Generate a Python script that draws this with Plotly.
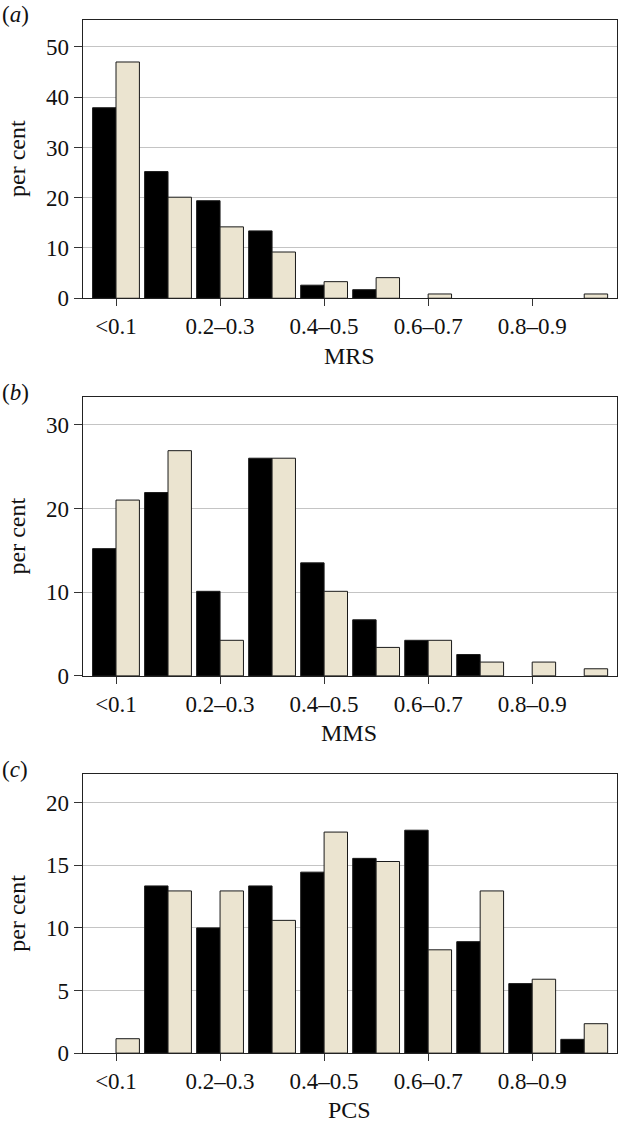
import plotly.graph_objects as go

categories = ["<0.1", "0.1–0.2", "0.2–0.3", "0.3–0.4", "0.4–0.5",
              "0.5–0.6", "0.6–0.7", "0.7–0.8", "0.8–0.9", "0.9–1.0"]
tick_positions = [0, 2, 4, 6, 8]
tick_labels = ["<0.1", "0.2–0.3", "0.4–0.5", "0.6–0.7", "0.8–0.9"]

mrs_black = [37.9, 25.2, 19.4, 13.4, 2.6, 1.7, 0, 0, 0, 0]
mrs_beige = [47.0, 20.1, 14.2, 9.2, 3.3, 4.1, 0.85, 0, 0, 0.85]

mms_black = [15.2, 21.9, 10.1, 26.0, 13.5, 6.7, 4.25, 2.55, 0, 0]
mms_beige = [21.0, 26.9, 4.25, 26.0, 10.1, 3.4, 4.25, 1.65, 1.65, 0.85]

pcs_black = [0, 13.35, 10.0, 13.35, 14.45, 15.55, 17.8, 8.9, 5.55, 1.1]
pcs_beige = [1.15, 12.95, 12.95, 10.6, 17.65, 15.3, 8.25, 12.95, 5.9, 2.35]

panels = [
    ("a", "MRS", mrs_black, mrs_beige, [0, 10, 20, 30, 40, 50], 55.4),
    ("b", "MMS", mms_black, mms_beige, [0, 10, 20, 30], 33.3),
    ("c", "PCS", pcs_black, pcs_beige, [0, 5, 10, 15, 20], 22.26),
]

W, H = 618, 1137
x_left, x_right = 82.7, 617.0
tops = [20.0, 401.7, 783.3]
bottoms = [301.7, 683.7, 1065.3]

FONT = "Liberation Serif"
BEIGE = "#ebe4d0"
BLACK = "#000000"


def nz(vals):
    # zero-height bins are drawn as empty (no outline sliver)
    return [v if v else None for v in vals]


fig = go.Figure()
annotations = []
layout_axes = {}
x_pos = list(range(len(categories)))

for i, (letter, xtitle, blk, bge, yticks, ymax) in enumerate(panels):
    n = "" if i == 0 else str(i + 1)
    xa, ya = "x" + n, "y" + n
    fig.add_trace(go.Bar(x=x_pos, y=nz(blk), xaxis=xa, yaxis=ya, name="black",
                         marker=dict(color=BLACK, line=dict(color="#1a1a1a", width=1)),
                         showlegend=False, hovertext=categories))
    fig.add_trace(go.Bar(x=x_pos, y=nz(bge), xaxis=xa, yaxis=ya, name="beige",
                         marker=dict(color=BEIGE, line=dict(color="#1a1a1a", width=1)),
                         showlegend=False, hovertext=categories))
    ydom = [1 - bottoms[i] / H, 1 - tops[i] / H]
    layout_axes["xaxis" + n] = dict(
        domain=[x_left / W, x_right / W], range=[-0.64, 9.63],
        tickmode="array", tickvals=tick_positions, ticktext=tick_labels,
        ticks="outside", ticklen=7, tickcolor="#333", tickwidth=1,
        showline=True, linecolor="#222", linewidth=1.3, mirror=True,
        showgrid=False, zeroline=False, anchor=ya,
        tickfont=dict(family=FONT, size=23, color="#111"),
    )
    layout_axes["yaxis" + n] = dict(
        domain=ydom, range=[0, ymax], tickvals=yticks,
        ticks="outside", ticklen=8, tickcolor="#333", tickwidth=1,
        showline=True, linecolor="#222", linewidth=1.3, mirror=True,
        showgrid=True, gridcolor="#c4c4c4", gridwidth=1,
        zeroline=False, anchor=xa,
        tickfont=dict(family=FONT, size=23, color="#111"),
    )
    cy = (tops[i] + bottoms[i]) / 2
    annotations.append(dict(text="per cent", x=17 / W, y=1 - cy / H, xref="paper", yref="paper",
                            textangle=-90, showarrow=False, xanchor="center", yanchor="middle",
                            font=dict(family=FONT, size=24, color="#111")))
    annotations.append(dict(text=xtitle, x=349 / W, y=1 - (bottoms[i] + 58) / H, xref="paper", yref="paper",
                            showarrow=False, xanchor="center", yanchor="middle",
                            font=dict(family=FONT, size=24, color="#111")))
    annotations.append(dict(text="(<i>%s</i>)" % letter, x=0, y=1 - (tops[i] - 5) / H, xref="paper", yref="paper",
                            showarrow=False, xanchor="left", yanchor="middle",
                            font=dict(family=FONT, size=23, color="#111")))

fig.update_layout(
    width=W, height=H, margin=dict(l=0, r=0, t=0, b=0),
    paper_bgcolor="white", plot_bgcolor="white",
    barmode="group", bargap=0.1, bargroupgap=0,
    annotations=annotations, **layout_axes,
)
fig.write_html("out.html", config={"displayModeBar": False},
               post_script="document.body.style.margin='0';")
